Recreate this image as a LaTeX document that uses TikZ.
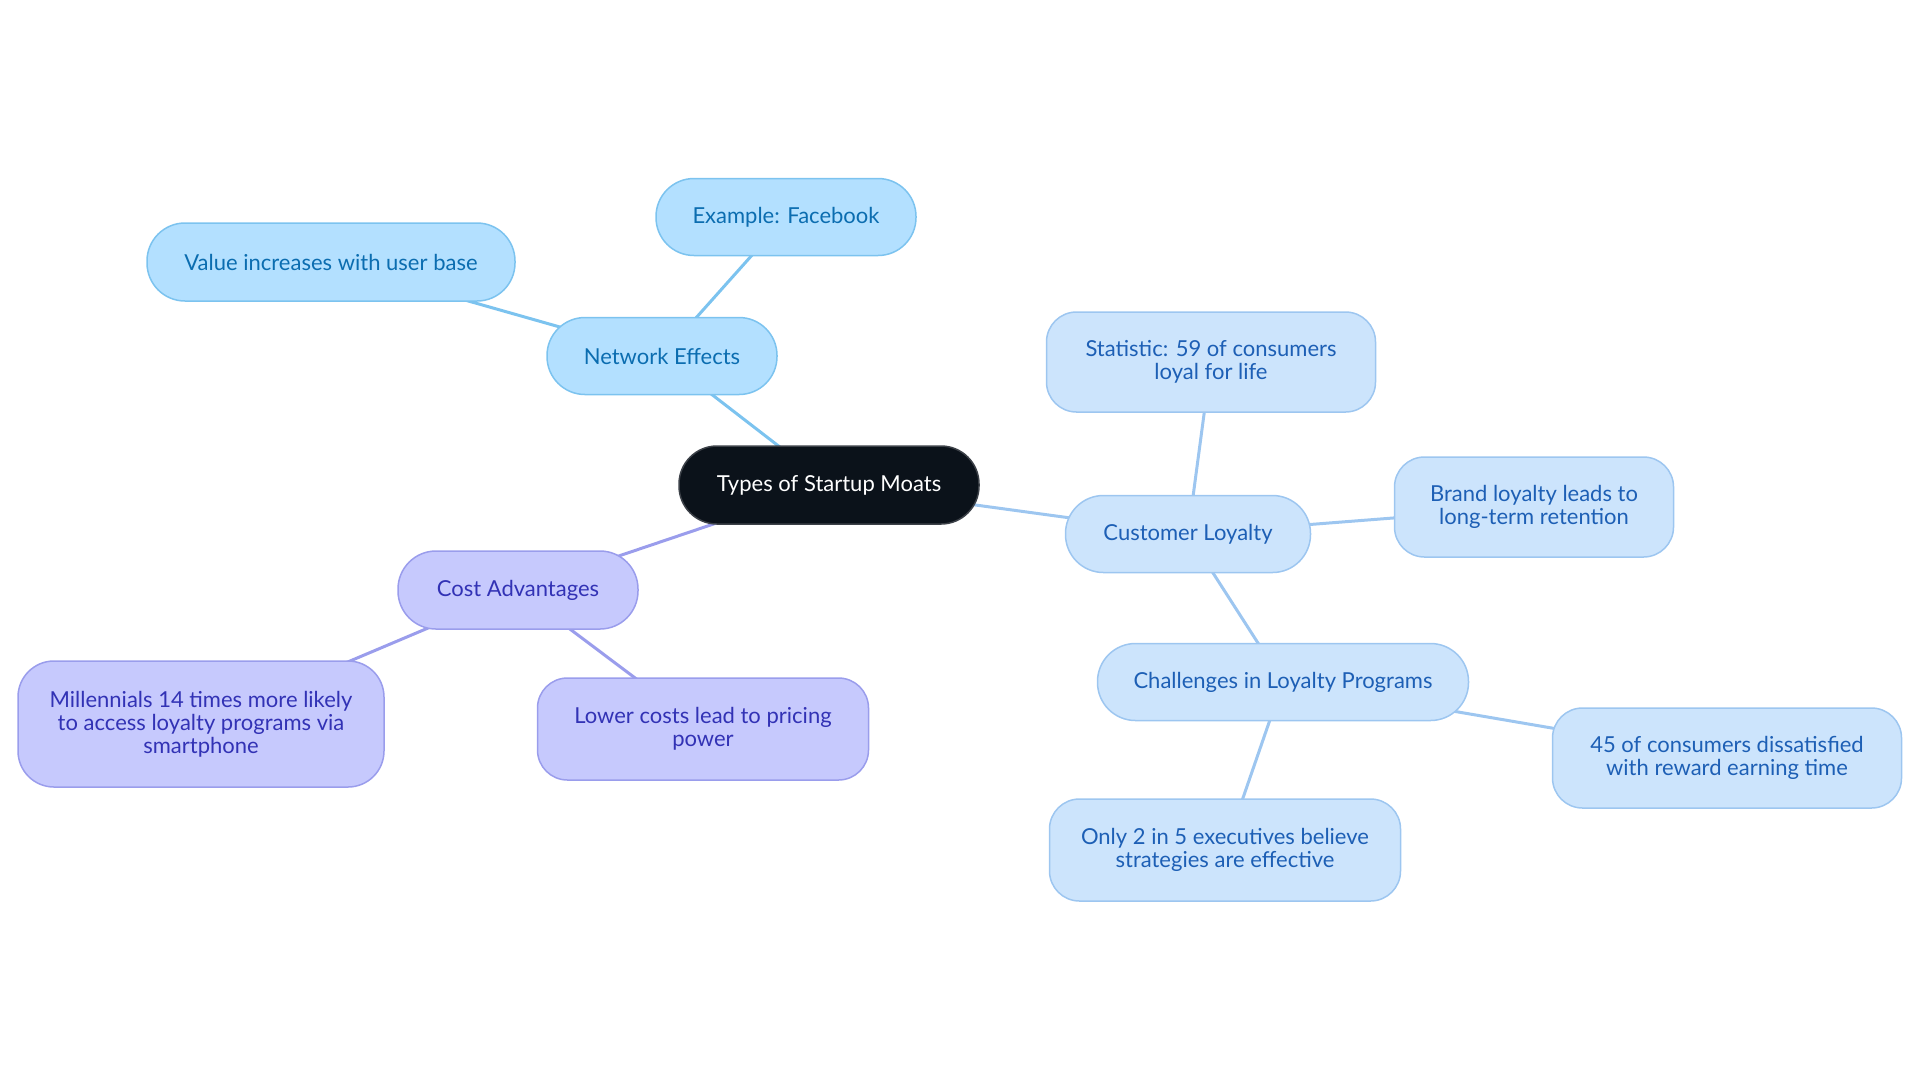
\documentclass[tikz,border=0pt]{standalone}
\usepackage{fontspec}
\setmainfont{Lato}
\usepackage{tikz}
\usetikzlibrary{backgrounds}
\definecolor{rootfill}{HTML}{0B121A}
\definecolor{netfill}{HTML}{B3E0FF}
\definecolor{netline}{HTML}{7CC3EF}
\definecolor{nettext}{HTML}{0B6DB0}
\definecolor{custfill}{HTML}{CCE4FC}
\definecolor{custline}{HTML}{9DC6F0}
\definecolor{custtext}{HTML}{1D5FB5}
\definecolor{costfill}{HTML}{C6C9FD}
\definecolor{costline}{HTML}{9A9DEC}
\definecolor{costtext}{HTML}{3232B5}
\tikzset{
  moat/.style={rounded corners=19pt,line width=0.75pt,align=center,inner sep=0pt,
    font=\fontsize{11}{11.6}\selectfont},
  rootbox/.style={moat,fill=rootfill,draw=rootfill!80!white,text=white},
  netbox/.style={moat,fill=netfill,draw=netline,text=nettext},
  custbox/.style={moat,fill=custfill,draw=custline,text=custtext},
  costbox/.style={moat,fill=costfill,draw=costline,text=costtext},
  tall/.style={rounded corners=15pt},
  netedge/.style={draw=netline,line width=1.5pt},
  custedge/.style={draw=custline,line width=1.5pt},
  costedge/.style={draw=costline,line width=1.5pt},
}
\begin{document}
\begin{tikzpicture}[line cap=round,line join=round,x=0.5pt,y=-0.5pt]
\useasboundingbox (0,0) rectangle (1920,1083);
% centre
\node[rootbox,minimum width=150pt,minimum height=39pt] (root) at (829,485) {Types of Startup Moats};
% network effects
\node[netbox,minimum width=115pt,minimum height=38.5pt] (net) at (662,356) {Network Effects};
\node[netbox,minimum width=130pt,minimum height=38.5pt] (fb) at (786,217) {Example: Facebook};
\node[netbox,minimum width=184pt,minimum height=39pt] (value) at (331,262) {Value increases with user base};
% customer loyalty
\node[custbox,minimum width=122.5pt,minimum height=38.5pt] (cust) at (1188,534) {Customer Loyalty};
\node[custbox,tall,minimum width=164.5pt,minimum height=50pt] (stat) at (1211,362) {Statistic: 59 of consumers\\loyal for life};
\node[custbox,tall,minimum width=139.5pt,minimum height=50pt] (brand) at (1534,507) {Brand loyalty leads to\\long-term retention};
\node[custbox,minimum width=185.5pt,minimum height=38.5pt] (chall) at (1283,682) {Challenges in Loyalty Programs};
\node[custbox,tall,minimum width=174.5pt,minimum height=50pt] (dissat) at (1727,758) {45 of consumers dissatisfied\\with reward earning time};
\node[custbox,tall,minimum width=175.5pt,minimum height=51pt] (exec) at (1225,850) {Only 2 in 5 executives believe\\strategies are effective};
% cost advantages
\node[costbox,tall,minimum width=120pt,minimum height=39pt,rounded corners=19pt] (cost) at (518,590) {Cost Advantages};
\node[costbox,tall,minimum width=183pt,minimum height=63pt,rounded corners=18pt] (mill) at (201,724) {Millennials 14 times more likely\\to access loyalty programs via\\smartphone};
\node[costbox,tall,minimum width=165.5pt,minimum height=51pt] (lower) at (703,729) {Lower costs lead to pricing\\power};
\begin{scope}[on background layer]
\draw[netedge] (root.center) -- (net.center);
\draw[netedge] (net.center) -- (fb.center);
\draw[netedge] (net.center) -- (value.center);
\draw[custedge] (root.center) -- (cust.center);
\draw[custedge] (cust.center) -- (stat.center);
\draw[custedge] (cust.center) -- (brand.center);
\draw[custedge] (cust.center) -- (chall.center);
\draw[custedge] (chall.center) -- (dissat.center);
\draw[custedge] (chall.center) -- (exec.center);
\draw[costedge] (root.center) -- (cost.center);
\draw[costedge] (cost.center) -- (mill.center);
\draw[costedge] (cost.center) -- (lower.center);
\end{scope}
\end{tikzpicture}
\end{document}
